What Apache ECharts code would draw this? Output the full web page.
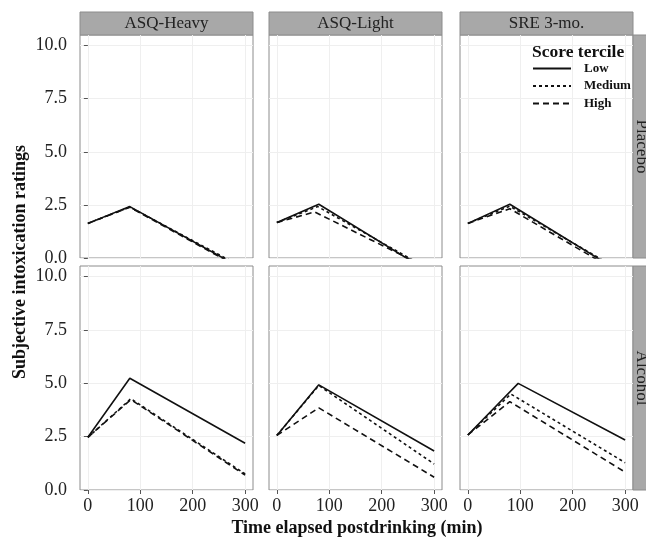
<!DOCTYPE html>
<html>
<head>
<meta charset="utf-8">
<script src="https://cdn.jsdelivr.net/npm/echarts@6/dist/echarts.min.js"></script>
<style>html,body{margin:0;padding:0;background:#fff}#c{width:646px;height:540px}</style>
</head>
<body>
<div id="c"></div>
<script>
// Facets
const measures = ['ASQ-Heavy', 'ASQ-Light', 'SRE 3-mo.'];
const conditions = ['Placebo', 'Alcohol'];
const terciles = ['Low', 'Medium', 'High'];
const xTicks = [0, 100, 200, 300];
const yTicks = [0, 2.5, 5, 7.5, 10];
const yTickLabels = ['0.0', '2.5', '5.0', '7.5', '10.0'];

// Each line: [x, y] knots (start, peak, end)
// Placebo row
const placeboHeavyLow    = [[0, 1.63], [80, 2.42], [300, -0.57]];
const placeboHeavyMedium = [[0, 1.63], [80, 2.40], [300, -0.50]];
const placeboHeavyHigh   = [[0, 1.63], [80, 2.39], [300, -0.61]];
const placeboLightLow    = [[0, 1.67], [80, 2.53], [300, -0.80]];
const placeboLightMedium = [[0, 1.67], [78, 2.42], [300, -0.66]];
const placeboLightHigh   = [[0, 1.67], [72, 2.17], [300, -0.62]];
const placeboSRELow      = [[0, 1.63], [80, 2.53], [300, -0.80]];
const placeboSREMedium   = [[0, 1.63], [80, 2.44], [300, -0.72]];
const placeboSREHigh     = [[0, 1.63], [80, 2.32], [300, -0.85]];
// Alcohol row
const alcoholHeavyLow    = [[0, 2.47], [80, 5.24], [300, 2.19]];
const alcoholHeavyMedium = [[0, 2.47], [82, 4.28], [300, 0.75]];
const alcoholHeavyHigh   = [[0, 2.47], [82, 4.24], [300, 0.70]];
const alcoholLightLow    = [[0, 2.56], [80, 4.93], [300, 1.83]];
const alcoholLightMedium = [[0, 2.56], [80, 4.90], [300, 1.22]];
const alcoholLightHigh   = [[0, 2.56], [80, 3.85], [300, 0.60]];
const alcoholSRELow      = [[0, 2.58], [96, 5.00], [300, 2.34]];
const alcoholSREMedium   = [[0, 2.58], [82, 4.50], [300, 1.28]];
const alcoholSREHigh     = [[0, 2.58], [80, 4.14], [300, 0.84]];

const lineData = [
  [[placeboHeavyLow, placeboHeavyMedium, placeboHeavyHigh],
   [placeboLightLow, placeboLightMedium, placeboLightHigh],
   [placeboSRELow, placeboSREMedium, placeboSREHigh]],
  [[alcoholHeavyLow, alcoholHeavyMedium, alcoholHeavyHigh],
   [alcoholLightLow, alcoholLightMedium, alcoholLightHigh],
   [alcoholSRELow, alcoholSREMedium, alcoholSREHigh]]
];

const FONT = '"Liberation Serif", "DejaVu Serif", serif';
const colLeft = [80, 269, 460];
const colW = 173;
const rowTop = [35, 266];
const rowH = [223, 224];
const dashes = ['solid', [3, 3], [6, 4]];
const gridColor = '#efefef';
const borderColor = '#8c8c8c';

const grids = [], xAxes = [], yAxes = [], series = [], graphics = [];
let gi = 0;
for (let r = 0; r < 2; r++) {
  for (let c = 0; c < 3; c++) {
    grids.push({left: colLeft[c], top: rowTop[r], width: colW, height: rowH[r],
      show: true, borderColor: borderColor, borderWidth: 1, backgroundColor: '#fff'});
    xAxes.push({type: 'value', gridIndex: gi, min: -15, max: 315,
      axisLine: {show: false},
      axisTick: {show: r === 1, length: 4, lineStyle: {color: '#555'}, customValues: xTicks},
      axisLabel: {show: r === 1, customValues: xTicks, fontFamily: FONT, fontSize: 18, color: '#222', margin: 7},
      splitLine: {show: true, lineStyle: {color: gridColor, width: 1}, customValues: [0, 50, 100, 150, 200, 250, 300]}
    });
    yAxes.push({type: 'value', gridIndex: gi, min: 0, max: 10.5,
      axisLine: {show: false},
      axisTick: {show: c === 0, length: 4, lineStyle: {color: '#555'}, customValues: yTicks},
      axisLabel: {show: c === 0, customValues: yTicks, fontFamily: FONT, fontSize: 18, color: '#222', margin: 13,
        formatter: v => yTickLabels[yTicks.indexOf(v)] !== undefined ? yTickLabels[yTicks.indexOf(v)] : ''},
      splitLine: {show: true, lineStyle: {color: gridColor, width: 1}, customValues: [0, 1.25, 2.5, 3.75, 5, 6.25, 7.5, 8.75, 10]}
    });
    for (let t = 0; t < 3; t++) {
      series.push({type: 'line', name: terciles[t], xAxisIndex: gi, yAxisIndex: gi,
        data: lineData[r][c][t], showSymbol: false, symbol: 'none', clip: true, animation: false,
        lineStyle: {color: '#111', width: 1.6, type: dashes[t]}, itemStyle: {color: '#111'}});
    }
    gi++;
  }
}
// top strips
for (let c = 0; c < 3; c++) {
  graphics.push({type: 'rect', shape: {x: colLeft[c], y: 12, width: colW, height: 23},
    style: {fill: '#a8a8a8', stroke: borderColor, lineWidth: 1}});
  graphics.push({type: 'text', x: colLeft[c] + colW / 2, y: 24,
    style: {text: measures[c], fontFamily: FONT, fontSize: 17, fill: '#222', align: 'center', verticalAlign: 'middle'}});
}
// right strips
for (let r = 0; r < 2; r++) {
  graphics.push({type: 'rect', shape: {x: 633, y: rowTop[r], width: 16, height: rowH[r]},
    style: {fill: '#a8a8a8', stroke: borderColor, lineWidth: 1}});
  graphics.push({type: 'text', x: 641, y: rowTop[r] + rowH[r] / 2, rotation: -Math.PI / 2,
    style: {text: conditions[r], fontFamily: FONT, fontSize: 17, fill: '#222', align: 'center', verticalAlign: 'middle'}});
}
// axis titles
graphics.push({type: 'text', x: 20, y: 262, rotation: Math.PI / 2,
  style: {text: 'Subjective intoxication ratings', fontFamily: FONT, fontSize: 18, fontWeight: 'bold', fill: '#111', align: 'center', verticalAlign: 'middle'}});
graphics.push({type: 'text', x: 357, y: 528,
  style: {text: 'Time elapsed postdrinking (min)', fontFamily: FONT, fontSize: 18, fontWeight: 'bold', fill: '#111', align: 'center', verticalAlign: 'middle'}});
// legend title
graphics.push({type: 'text', x: 532, y: 52,
  style: {text: 'Score tercile', fontFamily: FONT, fontSize: 17.5, fontWeight: 'bold', fill: '#111', align: 'left', verticalAlign: 'middle'}, z: 100});

const chart = echarts.init(document.getElementById('c'));
chart.setOption({
  animation: false,
  backgroundColor: '#fff',
  grid: grids, xAxis: xAxes, yAxis: yAxes, series: series,
  legend: {data: terciles, orient: 'vertical', left: 532, top: 62, itemWidth: 38, itemHeight: 14, itemGap: 4.5,
    padding: 0, selectedMode: false,
    itemStyle: {opacity: 0},
    textStyle: {fontFamily: FONT, fontSize: 13, fontWeight: 'bold', color: '#111', padding: [0, 0, 0, 8]}},
  graphic: graphics
});
</script>
</body>
</html>
